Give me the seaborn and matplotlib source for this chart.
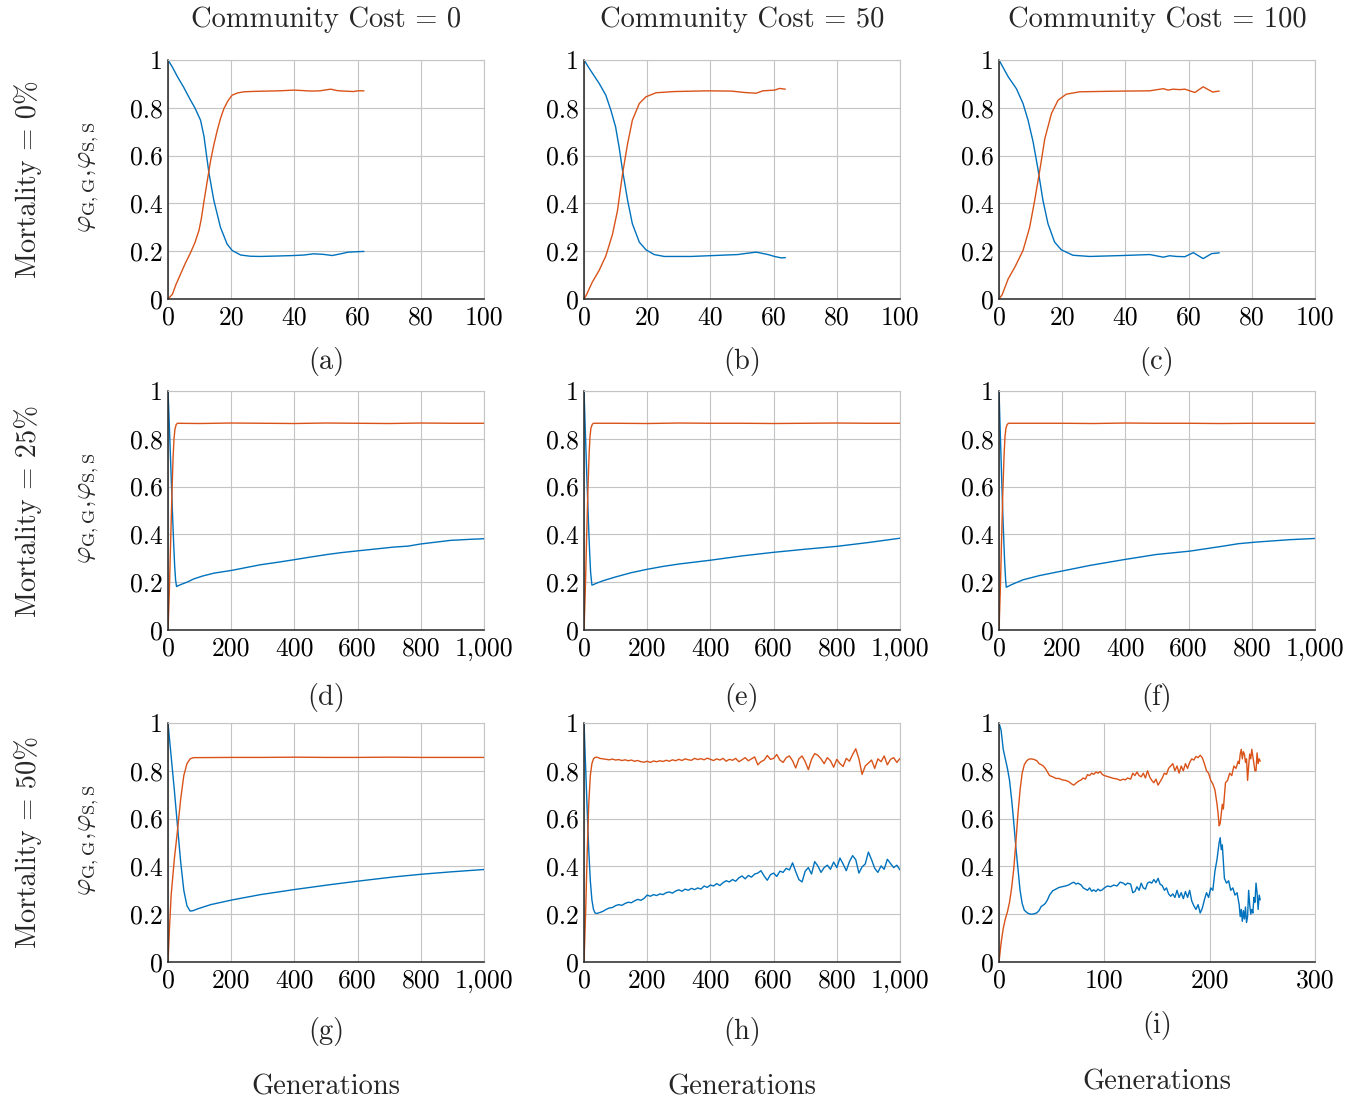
import matplotlib
matplotlib.use("Agg")
import matplotlib.pyplot as plt
import matplotlib.ticker as mticker
import seaborn as sns
import pandas as pd

# ---------------- data ----------------
COL_TITLES = ["Community Cost = 0", "Community Cost = 50", "Community Cost = 100"]
ROW_LABELS = ["Mortality = 0%", "Mortality = 25%", "Mortality = 50%"]
SUBCAPTIONS = ["(a)", "(b)", "(c)", "(d)", "(e)", "(f)", "(g)", "(h)", "(i)"]
Y_TICKS = [0, 0.2, 0.4, 0.6, 0.8, 1]
Y_TICK_LABELS = ["0", "0.2", "0.4", "0.6", "0.8", "1"]
X_TICKS_ROW1 = [0, 20, 40, 60, 80, 100]
X_TICKS_ROW2 = [0, 200, 400, 600, 800, 1000]
X_TICKS_I = [0, 100, 200, 300]

# (a)
A_X_BLUE = [0, 1.4, 3, 5, 7, 8.5, 10.3, 11.4, 12.2, 13, 14.5, 16.6, 18.7, 20.3, 23, 26, 29, 35, 40, 43, 46, 49, 52, 55, 57, 60, 62]
A_BLUE = [1.0, 0.97, 0.93, 0.885, 0.835, 0.80, 0.748, 0.68, 0.60, 0.524, 0.413, 0.30, 0.23, 0.203, 0.184, 0.179, 0.178, 0.18, 0.182, 0.184, 0.189, 0.187, 0.182, 0.19, 0.196, 0.198, 0.199]
A_X_ORANGE = [0, 1.4, 2.5, 4, 5.5, 7, 8.5, 9.8, 10.6, 11.4, 12.5, 13.5, 14.5, 15.6, 16.6, 17.7, 19, 20.3, 22, 24, 28, 35, 40, 45.5, 48, 51.5, 53.5, 55.5, 58.7, 60, 62]
A_ORANGE = [0.0, 0.02, 0.06, 0.105, 0.15, 0.19, 0.235, 0.287, 0.34, 0.41, 0.50, 0.58, 0.645, 0.706, 0.755, 0.797, 0.83, 0.853, 0.862, 0.867, 0.869, 0.871, 0.874, 0.87, 0.871, 0.878, 0.872, 0.87, 0.868, 0.871, 0.871]

# (b)
B_X_BLUE = [0, 2, 4.8, 6.9, 8.5, 10, 11.1, 12.2, 13.8, 15.3, 17.5, 19.6, 22.2, 25.4, 33.9, 41.3, 48.7, 50.8, 54.5, 56, 58.2, 60.3, 62.4, 63.7]
B_BLUE = [1.0, 0.958, 0.902, 0.853, 0.79, 0.72, 0.636, 0.538, 0.413, 0.315, 0.238, 0.206, 0.186, 0.178, 0.178, 0.182, 0.186, 0.19, 0.196, 0.192, 0.186, 0.178, 0.172, 0.173]
B_X_ORANGE = [0, 0.8, 2.6, 4.8, 6.9, 9, 10.6, 12.2, 13.8, 15.3, 17.5, 19.6, 22.8, 28.6, 39, 46.6, 50.8, 54.5, 56.6, 60.3, 61.9, 63.7]
B_ORANGE = [0.0, 0.018, 0.07, 0.12, 0.18, 0.27, 0.37, 0.524, 0.65, 0.748, 0.818, 0.846, 0.863, 0.868, 0.871, 0.87, 0.864, 0.861, 0.871, 0.874, 0.881, 0.878]

# (c)
C_X_BLUE = [0, 2.9, 5.5, 7.6, 9.2, 10.8, 12.4, 13.9, 15.5, 17.6, 19.7, 23.4, 28.7, 39.3, 47.7, 52, 54, 56.2, 58.8, 61.5, 64.6, 67.3, 69.7]
C_BLUE = [1.0, 0.93, 0.88, 0.818, 0.748, 0.657, 0.538, 0.413, 0.315, 0.238, 0.206, 0.183, 0.178, 0.182, 0.186, 0.175, 0.181, 0.178, 0.177, 0.194, 0.169, 0.19, 0.193]
C_X_ORANGE = [0, 1, 2.9, 5, 7.6, 9.7, 11.3, 12.9, 14.5, 16.6, 18.7, 21.3, 25.6, 39.3, 47.7, 52, 53.5, 55.1, 57.2, 58.8, 60.4, 62, 64.6, 67.6, 69.7]
C_ORANGE = [0.0, 0.018, 0.084, 0.133, 0.203, 0.30, 0.413, 0.538, 0.671, 0.776, 0.832, 0.857, 0.867, 0.87, 0.871, 0.88, 0.874, 0.878, 0.876, 0.878, 0.871, 0.864, 0.888, 0.866, 0.87]

# (d)
D_X_BLUE = [0, 3, 6, 9, 12, 15, 18, 21, 24, 27, 30, 40, 60, 82, 110, 146, 175, 204, 250, 293, 350, 399, 450, 504, 550, 599, 650, 715, 760, 800, 850, 894, 950, 1000]
D_BLUE = [1.0, 0.9, 0.79, 0.68, 0.57, 0.46, 0.36, 0.27, 0.21, 0.182, 0.184, 0.19, 0.2, 0.214, 0.226, 0.238, 0.244, 0.25, 0.262, 0.273, 0.284, 0.294, 0.305, 0.316, 0.324, 0.331, 0.338, 0.347, 0.351, 0.36, 0.368, 0.375, 0.379, 0.382]
D_X_ORANGE = [0, 4, 8, 12, 16, 19, 22, 26, 30, 100, 200, 300, 400, 500, 600, 700, 800, 900, 1000]
D_ORANGE = [0.0, 0.15, 0.35, 0.55, 0.72, 0.80, 0.84, 0.86, 0.865, 0.864, 0.866, 0.865, 0.864, 0.866, 0.865, 0.864, 0.866, 0.865, 0.865]

# (e)
E_X_BLUE = [0, 3, 6, 9, 12, 15, 18, 21, 25, 30, 40, 60, 100, 150, 200, 250, 300, 400, 500, 600, 700, 800, 900, 1000]
E_BLUE = [1.0, 0.88, 0.76, 0.64, 0.53, 0.42, 0.32, 0.24, 0.188, 0.19, 0.196, 0.206, 0.222, 0.24, 0.254, 0.266, 0.276, 0.292, 0.31, 0.325, 0.338, 0.35, 0.366, 0.384]
E_X_ORANGE = [0, 4, 8, 12, 16, 19, 22, 26, 30, 100, 200, 300, 400, 500, 600, 700, 800, 900, 1000]
E_ORANGE = [0.0, 0.16, 0.37, 0.57, 0.73, 0.81, 0.845, 0.86, 0.865, 0.865, 0.864, 0.866, 0.865, 0.865, 0.864, 0.865, 0.866, 0.865, 0.865]

# (f)
F_X_BLUE = [0, 3, 6, 9, 12, 15, 18, 21, 23, 28, 40, 76, 129, 197, 287, 393, 498, 604, 710, 757, 815, 921, 1000]
F_BLUE = [1.0, 0.87, 0.74, 0.61, 0.49, 0.38, 0.28, 0.21, 0.179, 0.182, 0.19, 0.21, 0.228, 0.246, 0.27, 0.294, 0.316, 0.33, 0.351, 0.361, 0.368, 0.378, 0.383]
F_X_ORANGE = [0, 4, 8, 12, 16, 19, 22, 26, 30, 100, 200, 300, 400, 500, 600, 700, 800, 900, 1000]
F_ORANGE = [0.0, 0.16, 0.37, 0.57, 0.73, 0.81, 0.845, 0.86, 0.865, 0.865, 0.865, 0.864, 0.866, 0.865, 0.865, 0.864, 0.865, 0.865, 0.865]

# (g)
G_X_BLUE = [0, 10, 20, 30, 40, 50, 60, 70, 80, 93, 135, 204, 293, 399, 504, 599, 715, 800, 894, 1000]
G_BLUE = [1.0, 0.86, 0.72, 0.57, 0.42, 0.30, 0.235, 0.213, 0.215, 0.222, 0.24, 0.26, 0.282, 0.303, 0.322, 0.338, 0.356, 0.367, 0.377, 0.387]
G_X_ORANGE = [0, 5, 10, 20, 30, 40, 50, 60, 70, 80, 200, 300, 400, 500, 600, 700, 800, 900, 1000]
G_ORANGE = [0.0, 0.15, 0.28, 0.43, 0.55, 0.68, 0.78, 0.83, 0.85, 0.855, 0.856, 0.856, 0.857, 0.856, 0.856, 0.857, 0.856, 0.856, 0.856]

# (h)
H_X = [0, 5, 10, 15, 20, 25, 30, 35, 40, 45, 50, 60] + list(range(70, 1001, 10))
H_BLUE = [1.0, 0.82, 0.64, 0.47, 0.34, 0.26, 0.22, 0.205, 0.203, 0.205, 0.207, 0.212,
          0.220, 0.226, 0.228, 0.236, 0.240, 0.237, 0.245, 0.250, 0.248, 0.256,
          0.262, 0.258, 0.266, 0.280, 0.275, 0.282, 0.278, 0.285, 0.282, 0.290,
          0.293, 0.288, 0.297, 0.302, 0.296, 0.305, 0.300, 0.308, 0.303, 0.310,
          0.305, 0.318, 0.312, 0.322, 0.318, 0.328, 0.320, 0.332, 0.340, 0.335,
          0.345, 0.338, 0.352, 0.360, 0.348, 0.362, 0.355, 0.368, 0.372, 0.382,
          0.360, 0.342, 0.365, 0.372, 0.358, 0.380, 0.375, 0.392, 0.385, 0.415,
          0.378, 0.345, 0.335, 0.380, 0.395, 0.368, 0.420, 0.402, 0.375, 0.395,
          0.405, 0.388, 0.418, 0.395, 0.435, 0.410, 0.382, 0.420, 0.445, 0.428,
          0.372, 0.398, 0.410, 0.460, 0.428, 0.392, 0.375, 0.402, 0.388, 0.430,
          0.412, 0.395, 0.405, 0.385]
H_ORANGE = [0.0, 0.2, 0.45, 0.66, 0.78, 0.83, 0.85, 0.856, 0.857, 0.855, 0.852, 0.85,
            0.848, 0.846, 0.849, 0.845, 0.847, 0.843, 0.846, 0.842, 0.845, 0.840,
            0.843, 0.838, 0.836, 0.840, 0.835, 0.841, 0.838, 0.842, 0.839, 0.844,
            0.840, 0.846, 0.842, 0.848, 0.843, 0.850, 0.846, 0.844, 0.852, 0.847,
            0.851, 0.846, 0.853, 0.848, 0.843, 0.850, 0.845, 0.852, 0.840, 0.848,
            0.844, 0.852, 0.838, 0.846, 0.855, 0.842, 0.850, 0.858, 0.825, 0.838,
            0.845, 0.864, 0.848, 0.852, 0.868, 0.845, 0.835, 0.855, 0.862, 0.842,
            0.812, 0.850, 0.862, 0.838, 0.805, 0.848, 0.872, 0.865, 0.850, 0.830,
            0.855, 0.842, 0.815, 0.848, 0.830, 0.818, 0.852, 0.840, 0.868, 0.892,
            0.850, 0.785, 0.820, 0.832, 0.845, 0.810, 0.850, 0.838, 0.862, 0.825,
            0.848, 0.855, 0.835, 0.852]

# (i)
I_X_BLUE = [0, 2, 4, 6, 8, 10, 12, 14, 16, 18, 20, 22, 24, 27, 30, 33, 36, 38, 40, 42, 44, 46, 48, 51, 54, 57, 60, 63, 66, 69, 71, 73, 75, 78, 80, 82, 84, 86, 88, 90, 92, 94, 96, 98, 100, 103, 106, 109, 112, 115, 118, 120, 122, 125, 127, 129, 131, 133, 135, 137, 139, 141, 143, 145, 147, 149, 151, 153, 155, 157, 159, 161, 163, 165, 167, 169, 171, 173, 175, 177, 179, 181, 183, 185, 187, 189, 191, 193, 195, 197, 199, 201, 203, 205, 207, 209, 210, 211, 212, 214, 216, 218, 220, 222, 224, 226, 228, 229, 230, 231, 232, 233, 234, 235, 236, 237, 238, 239, 240, 241, 242, 243, 244, 245, 246, 247, 248]
I_BLUE = [1.0, 0.97, 0.89, 0.85, 0.81, 0.76, 0.68, 0.585, 0.48, 0.39, 0.30, 0.245, 0.217, 0.205, 0.20, 0.201, 0.206, 0.215, 0.232, 0.238, 0.245, 0.26, 0.28, 0.298, 0.305, 0.312, 0.315, 0.318, 0.322, 0.33, 0.334, 0.326, 0.33, 0.322, 0.31, 0.305, 0.30, 0.31, 0.296, 0.302, 0.295, 0.305, 0.298, 0.302, 0.31, 0.318, 0.315, 0.322, 0.318, 0.334, 0.33, 0.322, 0.33, 0.326, 0.29, 0.295, 0.315, 0.30, 0.33, 0.31, 0.305, 0.33, 0.335, 0.33, 0.345, 0.332, 0.35, 0.325, 0.32, 0.30, 0.31, 0.285, 0.275, 0.285, 0.27, 0.30, 0.27, 0.29, 0.265, 0.295, 0.27, 0.30, 0.255, 0.235, 0.22, 0.24, 0.205, 0.225, 0.26, 0.29, 0.27, 0.31, 0.30, 0.38, 0.43, 0.50, 0.52, 0.47, 0.49, 0.35, 0.33, 0.34, 0.30, 0.31, 0.28, 0.29, 0.24, 0.19, 0.22, 0.17, 0.215, 0.18, 0.23, 0.165, 0.19, 0.30, 0.24, 0.20, 0.22, 0.205, 0.27, 0.25, 0.33, 0.29, 0.22, 0.28, 0.26]
I_X_ORANGE = [0, 2, 4, 6, 8, 10, 12, 14, 16, 18, 20, 22, 24, 26, 28, 30, 33, 36, 38, 40, 42, 44, 46, 48, 51, 54, 57, 60, 63, 66, 69, 71, 73, 75, 78, 80, 82, 84, 86, 88, 90, 92, 94, 96, 98, 100, 103, 106, 109, 112, 115, 118, 120, 122, 125, 127, 129, 131, 133, 135, 137, 139, 141, 143, 145, 147, 149, 151, 153, 155, 157, 159, 161, 163, 165, 167, 169, 171, 173, 175, 177, 179, 181, 183, 185, 187, 189, 191, 193, 195, 197, 199, 201, 203, 205, 207, 208, 209, 210, 211, 212, 213, 215, 217, 219, 221, 223, 225, 227, 228, 229, 230, 231, 232, 233, 234, 235, 236, 237, 238, 239, 240, 241, 242, 243, 244, 245, 246, 247, 248]
I_ORANGE = [0.0, 0.08, 0.14, 0.18, 0.21, 0.25, 0.31, 0.39, 0.50, 0.62, 0.72, 0.79, 0.825, 0.84, 0.848, 0.85, 0.848, 0.842, 0.83, 0.826, 0.82, 0.81, 0.795, 0.78, 0.775, 0.768, 0.768, 0.762, 0.76, 0.755, 0.745, 0.74, 0.748, 0.755, 0.762, 0.77, 0.765, 0.784, 0.78, 0.79, 0.785, 0.795, 0.79, 0.797, 0.785, 0.78, 0.776, 0.772, 0.768, 0.766, 0.76, 0.765, 0.762, 0.77, 0.765, 0.79, 0.78, 0.795, 0.78, 0.775, 0.79, 0.77, 0.80, 0.775, 0.76, 0.75, 0.765, 0.74, 0.755, 0.77, 0.79, 0.785, 0.81, 0.82, 0.83, 0.80, 0.82, 0.79, 0.82, 0.80, 0.83, 0.81, 0.835, 0.85, 0.845, 0.86, 0.855, 0.865, 0.855, 0.83, 0.80, 0.79, 0.76, 0.745, 0.72, 0.66, 0.62, 0.57, 0.58, 0.62, 0.66, 0.64, 0.75, 0.76, 0.79, 0.78, 0.82, 0.81, 0.84, 0.83, 0.87, 0.89, 0.85, 0.88, 0.87, 0.835, 0.85, 0.76, 0.82, 0.87, 0.85, 0.89, 0.86, 0.83, 0.80, 0.80, 0.875, 0.83, 0.85, 0.84]

PANELS = [
    (A_X_BLUE, A_BLUE, A_X_ORANGE, A_ORANGE),
    (B_X_BLUE, B_BLUE, B_X_ORANGE, B_ORANGE),
    (C_X_BLUE, C_BLUE, C_X_ORANGE, C_ORANGE),
    (D_X_BLUE, D_BLUE, D_X_ORANGE, D_ORANGE),
    (E_X_BLUE, E_BLUE, E_X_ORANGE, E_ORANGE),
    (F_X_BLUE, F_BLUE, F_X_ORANGE, F_ORANGE),
    (G_X_BLUE, G_BLUE, G_X_ORANGE, G_ORANGE),
    (H_X, H_BLUE, H_X, H_ORANGE),
    (I_X_BLUE, I_BLUE, I_X_ORANGE, I_ORANGE),
]
X_LIMITS = [100, 100, 100, 1000, 1000, 1000, 1000, 1000, 300]
X_TICK_SETS = [X_TICKS_ROW1] * 3 + [X_TICKS_ROW2] * 5 + [X_TICKS_I]

# ---------------- style ----------------
BLUE = "#0072BD"
ORANGE = "#D95319"
GRID = "#c4c4c4"
DARK = "#262626"

sns.set_theme(style="white")
plt.rcParams["font.family"] = ["serif"]
plt.rcParams["font.serif"] = ["cmr10"]
plt.rcParams["mathtext.fontset"] = "cm"
plt.rcParams["axes.formatter.use_mathtext"] = True

W, H = 1366, 1102
fig = plt.figure(figsize=(W / 100, H / 100), dpi=100)

col_left = [168, 584, 999]
ax_w = 316
row_top = [60, 391, 723]
ax_h = 239

FS_TICK = 18.5
FS_TEXT = 20.5


def fx(px):
    return px / W


def fy(py):
    return 1 - py / H


for idx, (xb, yb, xo, yo) in enumerate(PANELS):
    r, c = divmod(idx, 3)
    ax = fig.add_axes([fx(col_left[c]), fy(row_top[r] + ax_h), ax_w / W, ax_h / H])
    sns.lineplot(x=xb, y=yb, ax=ax, color=BLUE, linewidth=1.0, estimator=None, sort=False)
    sns.lineplot(x=xo, y=yo, ax=ax, color=ORANGE, linewidth=1.0, estimator=None, sort=False)
    ax.set_xlim(0, X_LIMITS[idx])
    ax.set_ylim(0, 1)
    ax.set_xticks(X_TICK_SETS[idx])
    ax.xaxis.set_major_formatter(mticker.FuncFormatter(lambda v, p: f"{int(round(v)):,}"))
    ax.set_yticks(Y_TICKS)
    ax.set_yticklabels(Y_TICK_LABELS)
    ax.grid(True, color=GRID, linewidth=0.8)
    ax.set_axisbelow(True)
    for s in ["left", "bottom"]:
        ax.spines[s].set_color(DARK)
        ax.spines[s].set_linewidth(1.1)
    for s in ["top", "right"]:
        ax.spines[s].set_color(GRID)
        ax.spines[s].set_linewidth(0.8)
    ax.tick_params(direction="in", length=3.5, width=0.9, color=DARK,
                   labelsize=FS_TICK, labelcolor="black")
    ax.tick_params(axis="x", pad=5)
    ax.tick_params(axis="y", pad=4)
    ax.set_xlabel("")
    ax.set_ylabel("")

# column titles
for c, t in enumerate(COL_TITLES):
    fig.text(fx(col_left[c] + ax_w / 2), fy(20), t, ha="center", va="center", fontsize=FS_TEXT)

# row labels and y labels
for r, t in enumerate(ROW_LABELS):
    yc = row_top[r] + ax_h / 2
    fig.text(fx(28), fy(yc), t, ha="center", va="center", rotation=90, fontsize=FS_TEXT)
    fig.text(fx(89), fy(yc - 2), r"$\varphi_{\mathrm{G,G}},\!\varphi_{\mathrm{S,S}}$",
             ha="center", va="center", rotation=90, fontsize=19)

# subcaptions
sub_y = [362, 698, 1031]
for idx, t in enumerate(SUBCAPTIONS):
    r, c = divmod(idx, 3)
    yy = sub_y[r] - (5 if idx == 8 else 0)
    fig.text(fx(col_left[c] + ax_w / 2), fy(yy), t, ha="center", va="center", fontsize=FS_TEXT)

# Generations labels
for c in range(3):
    yy = 1082 if c == 2 else 1087
    fig.text(fx(col_left[c] + ax_w / 2), fy(yy), "Generations", ha="center", va="center", fontsize=FS_TEXT)

fig.savefig("out.png", dpi=100)
